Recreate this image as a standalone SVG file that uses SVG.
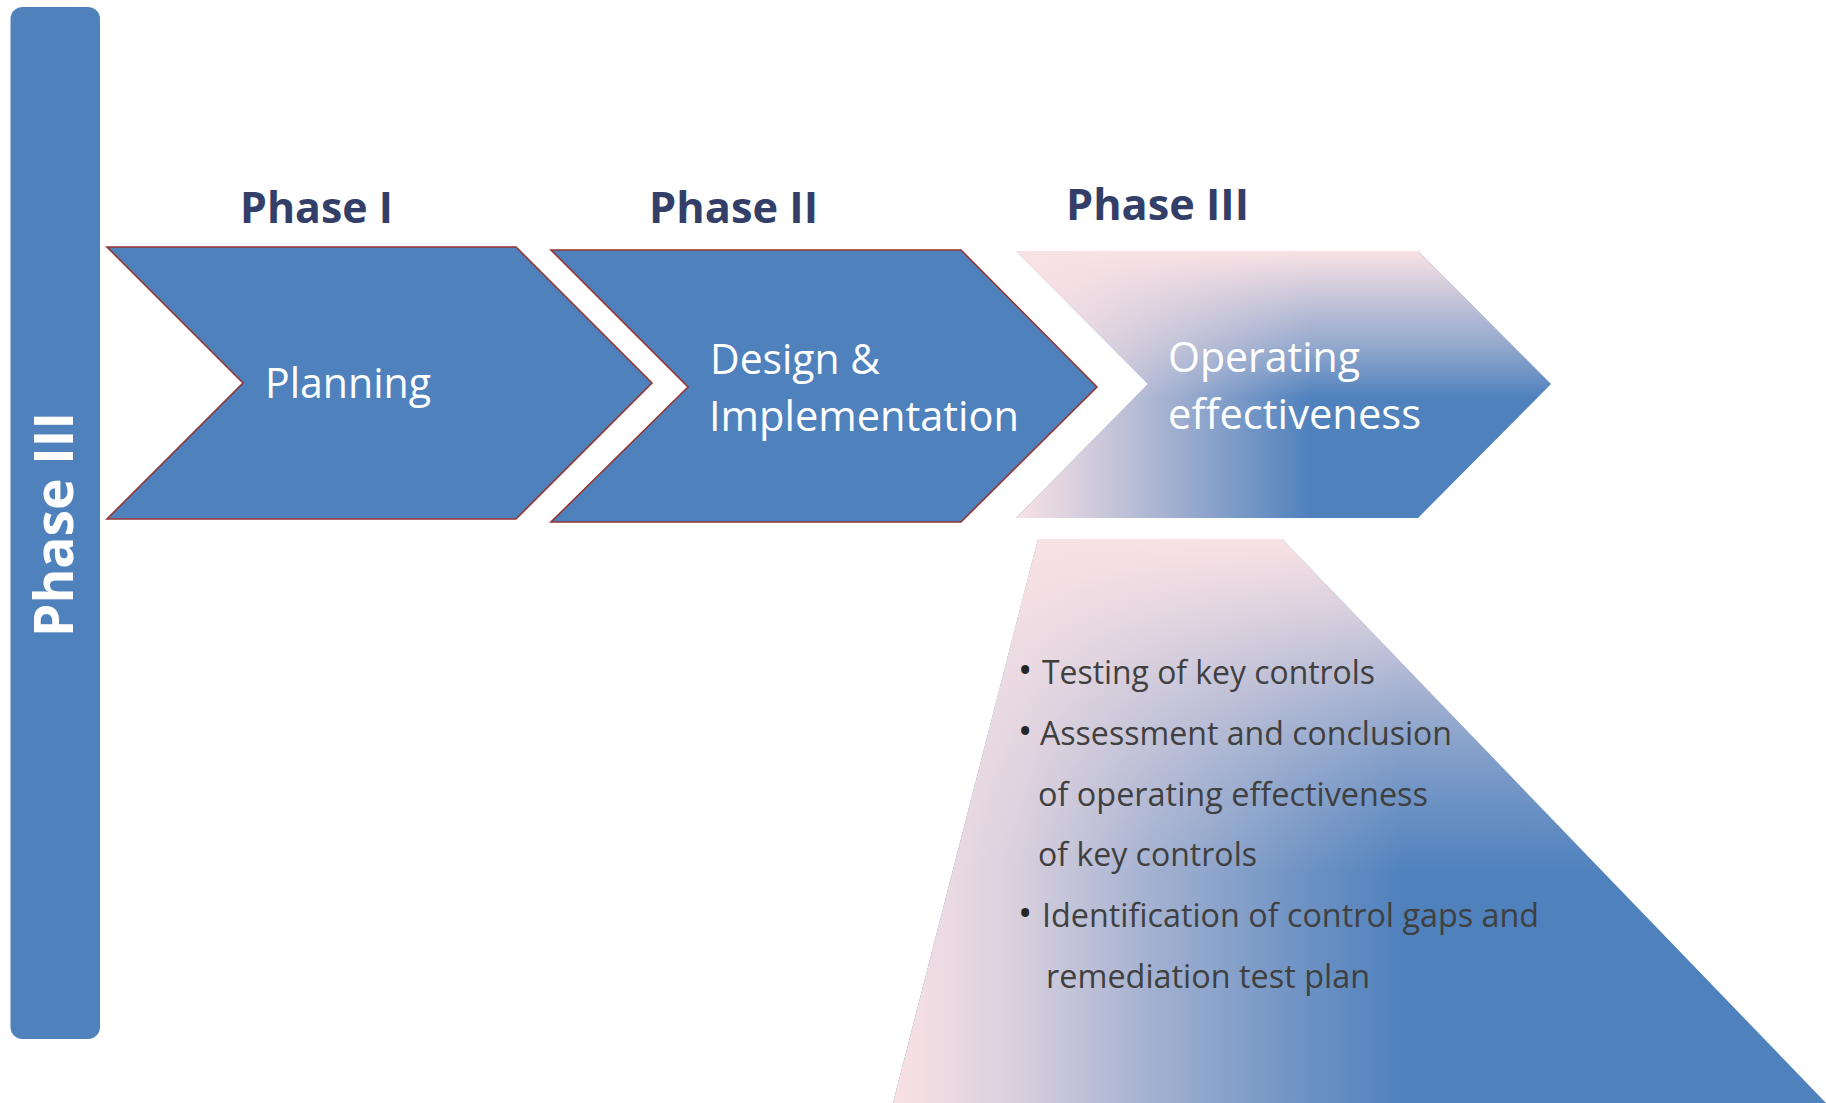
<svg xmlns="http://www.w3.org/2000/svg" width="1826" height="1103" viewBox="0 0 1826 1103">
  <style>
    .blue { fill: #4f81bd; }
    .chev { fill: #4f81bd; stroke: #943634; stroke-width: 1.6; stroke-linejoin: miter; }
    .head { font-family: "Open Sans", "Liberation Sans", sans-serif; font-weight: 700; font-size: 43.5px; fill: #333f68; }
    .label { font-family: "Open Sans", "Liberation Sans", sans-serif; font-size: 41.5px; fill: #ffffff; }
    .side { font-family: "Open Sans", "Liberation Sans", sans-serif; font-weight: 700; font-size: 53px; fill: #ffffff; }
    .item { font-family: "Open Sans", "Liberation Sans", sans-serif; font-size: 32px; fill: #404040; }
    .dot { font-family: "Open Sans", "Liberation Sans", sans-serif; font-size: 38px; fill: #262626; }
  </style>
  <defs>
    <!-- pink wash fading toward the blue corner: one horizontal, one vertical -->
    <linearGradient id="c3h" gradientUnits="userSpaceOnUse" x1="1016" y1="0" x2="1312" y2="0">
      <stop offset="0" stop-color="#f9e2e5" stop-opacity="1"/>
      <stop offset="0.3" stop-color="#f9e2e5" stop-opacity="0.72"/>
      <stop offset="0.55" stop-color="#f9e2e5" stop-opacity="0.46"/>
      <stop offset="0.8" stop-color="#f9e2e5" stop-opacity="0.2"/>
      <stop offset="1" stop-color="#f9e2e5" stop-opacity="0"/>
    </linearGradient>
    <linearGradient id="c3v" gradientUnits="userSpaceOnUse" x1="0" y1="251" x2="0" y2="398">
      <stop offset="0" stop-color="#f9e2e5" stop-opacity="1"/>
      <stop offset="0.3" stop-color="#f9e2e5" stop-opacity="0.72"/>
      <stop offset="0.65" stop-color="#f9e2e5" stop-opacity="0.4"/>
      <stop offset="1" stop-color="#f9e2e5" stop-opacity="0"/>
    </linearGradient>
    <linearGradient id="dh" gradientUnits="userSpaceOnUse" x1="893" y1="0" x2="1405" y2="0">
      <stop offset="0" stop-color="#f9e2e5" stop-opacity="1"/>
      <stop offset="0.25" stop-color="#f9e2e5" stop-opacity="0.8"/>
      <stop offset="0.5" stop-color="#f9e2e5" stop-opacity="0.5"/>
      <stop offset="0.78" stop-color="#f9e2e5" stop-opacity="0.2"/>
      <stop offset="1" stop-color="#f9e2e5" stop-opacity="0"/>
    </linearGradient>
    <linearGradient id="dv" gradientUnits="userSpaceOnUse" x1="0" y1="539" x2="0" y2="875">
      <stop offset="0" stop-color="#f9e2e5" stop-opacity="1"/>
      <stop offset="0.2" stop-color="#f9e2e5" stop-opacity="0.8"/>
      <stop offset="0.5" stop-color="#f9e2e5" stop-opacity="0.45"/>
      <stop offset="0.75" stop-color="#f9e2e5" stop-opacity="0.2"/>
      <stop offset="1" stop-color="#f9e2e5" stop-opacity="0"/>
    </linearGradient>
  </defs>

  <rect width="1826" height="1103" fill="#ffffff"/>

  <!-- vertical side bar -->
  <g id="side-bar">
    <rect class="blue" x="10.5" y="7" width="89.5" height="1032" rx="12" ry="12"/>
    <text class="side" transform="translate(72.5,637) rotate(-90)" textLength="225" lengthAdjust="spacingAndGlyphs">Phase III</text>
  </g>

  <!-- phase 1: planning -->
  <g id="phase-1">
    <text class="head" x="240" y="223" textLength="153" lengthAdjust="spacingAndGlyphs">Phase I</text>
    <polygon class="chev" points="107,247 516,247 652,383 516,519 107,519 243,383"/>
    <text class="label" x="265" y="398" textLength="166" lengthAdjust="spacingAndGlyphs">Planning</text>
  </g>

  <!-- phase 2: design & implementation -->
  <g id="phase-2">
    <text class="head" x="649" y="223" textLength="169" lengthAdjust="spacingAndGlyphs">Phase II</text>
    <polygon class="chev" points="551,250 961,250 1097,387 961,522 551,522 688,387"/>
    <text class="label" x="710" y="374" textLength="170" lengthAdjust="spacingAndGlyphs">Design &amp;</text>
    <text class="label" x="709" y="431" textLength="310" lengthAdjust="spacingAndGlyphs">Implementation</text>
  </g>

  <!-- phase 3: operating effectiveness -->
  <g id="phase-3">
    <text class="head" x="1066" y="220" textLength="183" lengthAdjust="spacingAndGlyphs">Phase III</text>
    <polygon class="blue" points="1016,251 1418,251 1551,384 1418,518 1016,518 1148,384"/>
    <polygon fill="url(#c3h)" points="1016,251 1418,251 1551,384 1418,518 1016,518 1148,384"/>
    <polygon fill="url(#c3v)" points="1016,251 1418,251 1551,384 1418,518 1016,518 1148,384"/>
    <text class="label" x="1168" y="372" textLength="192" lengthAdjust="spacingAndGlyphs">Operating</text>
    <text class="label" x="1168" y="429" textLength="253" lengthAdjust="spacingAndGlyphs">effectiveness</text>
  </g>

  <!-- phase 3 detail panel -->
  <g id="phase-3-details">
    <polygon class="blue" points="1038,539 1282,539 1826,1103 893,1103"/>
    <polygon fill="url(#dh)" points="1038,539 1282,539 1826,1103 893,1103"/>
    <polygon fill="url(#dv)" points="1038,539 1282,539 1826,1103 893,1103"/>
    <text class="dot" x="1018" y="684">•</text>
    <text class="item" x="1042" y="684" textLength="333" lengthAdjust="spacingAndGlyphs">Testing of key controls</text>
    <text class="dot" x="1018" y="745">•</text>
    <text class="item" x="1040" y="745" textLength="412" lengthAdjust="spacingAndGlyphs">Assessment and conclusion</text>
    <text class="item" x="1038" y="806" textLength="390" lengthAdjust="spacingAndGlyphs">of operating effectiveness</text>
    <text class="item" x="1038" y="866" textLength="219" lengthAdjust="spacingAndGlyphs">of key controls</text>
    <text class="dot" x="1018" y="927">•</text>
    <text class="item" x="1042" y="927" textLength="497" lengthAdjust="spacingAndGlyphs">Identification of control gaps and</text>
    <text class="item" x="1046" y="988" textLength="324" lengthAdjust="spacingAndGlyphs">remediation test plan</text>
  </g>
</svg>
